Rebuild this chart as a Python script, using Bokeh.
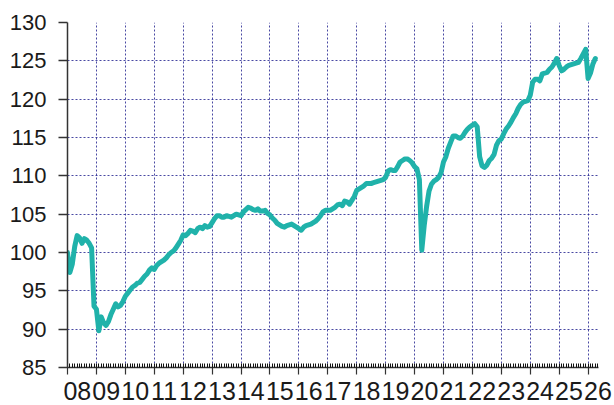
from bokeh.plotting import figure
from bokeh.models import LinearAxis, FixedTicker, Grid, Range1d, CustomJSTickFormatter
from bokeh.embed import file_html
from bokeh.resources import INLINE

start_year = 2008

v2008 = [100.0, 97.4, 98.5, 100.8, 102.2, 101.9, 101.2, 101.8, 101.6, 101.2, 100.6, 93.0]
v2009 = [92.6, 89.8, 91.6, 90.8, 90.5, 91.0, 91.9, 92.6, 93.3, 92.9, 93.1, 93.6]
v2010 = [94.3, 94.7, 95.1, 95.5, 95.7, 96.0, 96.1, 96.5, 96.9, 97.2, 97.7, 98.0]
v2011 = [97.8, 98.3, 98.6, 98.8, 99.0, 99.3, 99.7, 100.0, 100.2, 100.6, 101.1, 101.6]
v2012 = [102.3, 102.2, 102.5, 102.9, 102.8, 102.6, 103.1, 103.3, 103.1, 103.5, 103.3, 103.4]
v2013 = [103.9, 104.4, 104.8, 104.8, 104.6, 104.6, 104.8, 104.7, 104.6, 104.8, 105.0, 104.9]
v2014 = [104.8, 105.3, 105.6, 105.9, 105.8, 105.6, 105.5, 105.7, 105.4, 105.4, 105.5, 105.1]
v2015 = [104.9, 104.5, 104.2, 103.8, 103.6, 103.4, 103.3, 103.5, 103.6, 103.7, 103.5, 103.3]
v2016 = [103.1, 102.9, 103.3, 103.5, 103.6, 103.7, 103.9, 104.1, 104.4, 104.8, 105.3, 105.5]
v2017 = [105.5, 105.5, 105.7, 105.9, 106.2, 106.3, 106.1, 106.7, 106.6, 106.3, 106.8, 107.3]
v2018 = [108.1, 108.3, 108.5, 108.7, 109.0, 109.0, 109.0, 109.1, 109.2, 109.3, 109.4, 109.5]
v2019 = [109.8, 110.6, 110.8, 110.7, 110.7, 111.2, 111.8, 112.0, 112.2, 112.2, 112.0, 111.7]
v2020 = [111.2, 110.9, 109.5, 100.3, 103.5, 106.0, 108.0, 108.9, 109.3, 109.5, 109.8, 110.4]
v2021 = [111.8, 112.5, 113.6, 114.4, 115.2, 115.2, 115.0, 114.9, 115.2, 115.7, 116.1, 116.4]
v2022 = [116.6, 116.8, 116.4, 112.5, 111.3, 111.1, 111.4, 112.0, 112.3, 112.8, 114.0, 114.6]
v2023 = [114.8, 115.5, 116.1, 116.5, 117.0, 117.6, 118.1, 118.8, 119.3, 119.6, 119.7, 119.8]
v2024 = [120.5, 122.2, 122.6, 122.6, 122.4, 123.3, 123.4, 123.5, 123.9, 124.2, 124.7, 125.3]
v2025 = [124.4, 123.7, 123.9, 124.2, 124.4, 124.5, 124.6, 124.7, 124.8, 125.3, 125.9, 126.5]
v2026 = [122.7, 123.4, 124.6, 125.3]

tick_years = list(range(2008, 2027))
tick_labels = ["08", "09", "10", "11", "12", "13", "14", "15", "16", "17",
               "18", "19", "20", "21", "22", "23", "24", "25", "26"]
y_ticks = [85, 90, 95, 100, 105, 110, 115, 120, 125, 130]

values = (v2008 + v2009 + v2010 + v2011 + v2012 + v2013 + v2014 + v2015 + v2016 +
          v2017 + v2018 + v2019 + v2020 + v2021 + v2022 + v2023 + v2024 + v2025 + v2026)
xs = [start_year + i / 12 for i in range(len(values))]

x_end = 2026.36
month_ticks = [start_year + m / 12 for m in range(int((x_end - start_year) * 12) + 1)]
label_pos = [y + 0.34 for y in tick_years]

FONT = "Liberation Sans"
AXIS_COLOR = "#333333"
GRID_COLOR = "#1c1c8c"

p = figure(width=614, height=405, output_backend="svg", toolbar_location=None,
           x_axis_type=None, y_axis_type=None,
           x_range=Range1d(start_year, x_end), y_range=Range1d(85, 130),
           min_border_left=67, min_border_right=16, min_border_top=22, min_border_bottom=38)
p.outline_line_color = None
p.background_fill_color = "white"
p.border_fill_color = "white"

yaxis = LinearAxis(ticker=FixedTicker(ticks=y_ticks),
                   axis_line_color=AXIS_COLOR, axis_line_width=1.5,
                   major_tick_line_color=AXIS_COLOR, major_tick_line_width=1.5,
                   major_tick_out=9, major_tick_in=0,
                   minor_tick_line_color=None,
                   major_label_standoff=12,
                   major_label_text_font=FONT, major_label_text_font_size="22px",
                   major_label_text_color="#1a1a1a")
p.add_layout(yaxis, "left")

# axis carrying the year-boundary and monthly ticks
xaxis = LinearAxis(ticker=FixedTicker(ticks=tick_years, minor_ticks=month_ticks),
                   axis_line_color=AXIS_COLOR, axis_line_width=1.5,
                   major_tick_line_color=AXIS_COLOR, major_tick_line_width=1.2,
                   major_tick_out=7, major_tick_in=0,
                   minor_tick_line_color="#111111", minor_tick_line_width=1,
                   minor_tick_in=4, minor_tick_out=0,
                   formatter=CustomJSTickFormatter(code="return ''"),
                   major_label_text_font_size="1px", major_label_standoff=0)
p.add_layout(xaxis, "below")

# axis carrying the year labels, placed within each year
label_overrides = {float(pos): lab for pos, lab in zip(label_pos, tick_labels)}
xlabels = LinearAxis(ticker=FixedTicker(ticks=label_pos, minor_ticks=[]),
                     axis_line_color=None, major_tick_line_color=None,
                     minor_tick_line_color=None,
                     major_tick_out=0, major_tick_in=0, minor_tick_out=0, minor_tick_in=0,
                     major_label_overrides=label_overrides,
                     major_label_standoff=7,
                     major_label_text_font=FONT, major_label_text_font_size="25px",
                     major_label_text_color="#1a1a1a")
p.add_layout(xlabels, "below")

p.add_layout(Grid(dimension=0, ticker=FixedTicker(ticks=tick_years),
                  grid_line_color=GRID_COLOR, grid_line_alpha=0.8,
                  grid_line_width=1, grid_line_dash="2 2"))
p.add_layout(Grid(dimension=1, ticker=FixedTicker(ticks=y_ticks),
                  grid_line_color=GRID_COLOR, grid_line_alpha=0.8,
                  grid_line_width=1, grid_line_dash="2 2"))

p.line(xs, values, line_color="#20B2AA", line_width=5, line_join="round", line_cap="round")

open("out.html", "w").write(file_html(p, INLINE))
